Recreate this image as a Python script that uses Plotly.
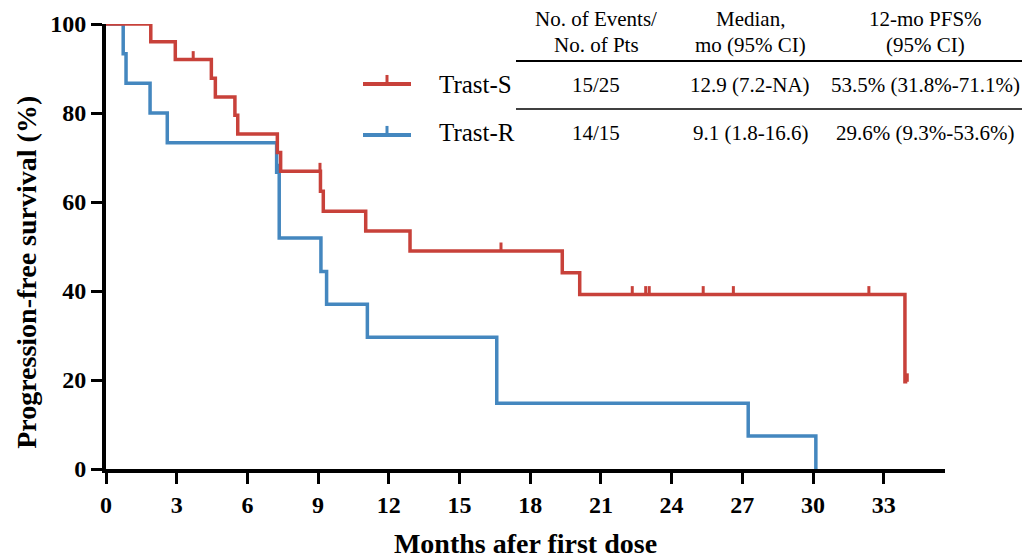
import plotly.graph_objects as go

# ---------------- data ----------------
times_S = [0, 1.9, 2.94, 4.47, 4.64, 5.47, 5.59, 7.27, 7.41, 9.1, 9.22, 11.02, 12.9, 19.36, 20.1, 33.9, 34.0]
surv_S = [100, 96.0, 92.0, 87.8, 83.6, 79.5, 75.3, 71.1, 66.9, 62.4, 57.9, 53.5, 49.0, 44.1, 39.2, 19.6, 19.6]
cens_S = [3.7, 9.08, 16.76, 22.33, 22.9, 23.05, 25.34, 26.62, 32.37, 34.0]

times_R = [0, 0.73, 0.85, 1.87, 2.6, 7.24, 7.35, 9.12, 9.36, 11.09, 16.58, 27.25, 30.12]
surv_R = [100, 93.3, 86.7, 80.0, 73.3, 66.7, 51.9, 44.4, 37.0, 29.6, 14.8, 7.4, 0]
cens_R = [7.3]

x_ticks = [0, 3, 6, 9, 12, 15, 18, 21, 24, 27, 30, 33]
y_ticks = [0, 20, 40, 60, 80, 100]

groups = ["Trast-S", "Trast-R"]
events = ["15/25", "14/15"]
medians = ["12.9 (7.2-NA)", "9.1 (1.8-16.6)"]
pfs12 = ["53.5% (31.8%-71.1%)", "29.6% (9.3%-53.6%)"]
headers = [["No. of Events/", "No. of Pts"], ["Median,", "mo (95% CI)"], ["12-mo PFS%", "(95% CI)"]]

RED = "#C8413A"
BLUE = "#4487BF"
FONT = "Liberation Serif"

def surv_at(times, surv, t):
    v = surv[0]
    for ti, si in zip(times, surv):
        if ti <= t:
            v = si
    return v

fig = go.Figure()

for times, surv, cens, col, name in [
    (times_R, surv_R, cens_R, BLUE, "Trast-R"),
    (times_S, surv_S, cens_S, RED, "Trast-S"),
]:
    fig.add_trace(go.Scatter(x=times, y=surv, mode="lines", line=dict(color=col, width=3.5, shape="hv"),
                             name=name, showlegend=False))
    cy = [surv_at(times, surv, t) for t in cens]
    fig.add_trace(go.Scatter(x=cens, y=cy, mode="markers", marker=dict(size=1, color=col, opacity=0),
                             error_y=dict(type="data", symmetric=False, array=[1.9] * len(cens),
                                          arrayminus=[0] * len(cens), color=col, thickness=3, width=0),
                             showlegend=False, hoverinfo="skip"))

# plot area in pixels
L, R_, T, B = 106, 945, 24, 469.3
W, H = 1025, 559

def px(X):
    return (X - L) / (R_ - L)

def py(Y):
    return (B - Y) / (B - T)

shapes = []
annotations = []
# legend icons
for Y, col in [(84, RED), (135, BLUE)]:
    shapes.append(dict(type="line", xref="paper", yref="paper", x0=px(363), x1=px(411), y0=py(Y), y1=py(Y),
                       line=dict(color=col, width=4)))
    shapes.append(dict(type="line", xref="paper", yref="paper", x0=px(387), x1=px(387), y0=py(Y), y1=py(Y - 9),
                       line=dict(color=col, width=3)))
# table lines
shapes.append(dict(type="line", xref="paper", yref="paper", x0=px(516), x1=px(1022), y0=py(61), y1=py(61),
                   line=dict(color="black", width=2.2)))
shapes.append(dict(type="line", xref="paper", yref="paper", x0=px(516), x1=px(1022), y0=py(109), y1=py(109),
                   line=dict(color="black", width=1.5)))

col_x = [596, 750, 925]
for cx, (h1, h2) in zip(col_x, headers):
    annotations.append(dict(x=px(cx), y=py(19), xref="paper", yref="paper", text=h1, showarrow=False,
                            xanchor="center", yanchor="middle", font=dict(family=FONT, size=21, color="black")))
    annotations.append(dict(x=px(cx), y=py(45), xref="paper", yref="paper", text=h2, showarrow=False,
                            xanchor="center", yanchor="middle", font=dict(family=FONT, size=21, color="black")))

for Y, g, e, m, p in zip([85, 133], groups, events, medians, pfs12):
    annotations.append(dict(x=px(437), y=py(Y), xref="paper", yref="paper", text=g, showarrow=False,
                            xanchor="left", yanchor="middle", font=dict(family=FONT, size=25, color="black")))
    for cx, t in zip(col_x, [e, m, p]):
        annotations.append(dict(x=px(cx), y=py(Y), xref="paper", yref="paper", text=t, showarrow=False,
                                xanchor="center", yanchor="middle", font=dict(family=FONT, size=21, color="black")))

# y-axis title
annotations.append(dict(x=px(27), y=py(273), xref="paper", yref="paper",
                        text="<b>Progression-free survival (%)</b>", textangle=-90, showarrow=False,
                        xanchor="center", yanchor="middle", font=dict(family=FONT, size=28, color="black")))

fig.update_layout(
    width=W, height=H,
    margin=dict(l=L, r=W - R_, t=T, b=H - B, autoexpand=False),
    plot_bgcolor="white", paper_bgcolor="white",
    shapes=shapes, annotations=annotations,
    font=dict(family=FONT, color="black"),
)
fig.update_xaxes(range=[0, 35.6], tickvals=x_ticks, ticktext=[str(v) for v in x_ticks], automargin=False,
                 showline=True, linecolor="black", linewidth=4, ticks="outside", ticklen=11, tickwidth=3,
                 tickcolor="black", showgrid=False, zeroline=False,
                 tickfont=dict(family=FONT, size=24, color="black", weight="bold"),
                 title=dict(text="<b>Months afer first dose</b>", font=dict(family=FONT, size=28, color="black"),
                            standoff=22))
fig.update_yaxes(range=[0, 100], tickvals=y_ticks, ticktext=[str(v) for v in y_ticks], automargin=False,
                 showline=True, linecolor="black", linewidth=4, ticks="outside", ticklen=11, tickwidth=3,
                 tickcolor="black", showgrid=False, zeroline=False,
                 tickfont=dict(family=FONT, size=24, color="black", weight="bold"))

fig.write_html("out.html")
